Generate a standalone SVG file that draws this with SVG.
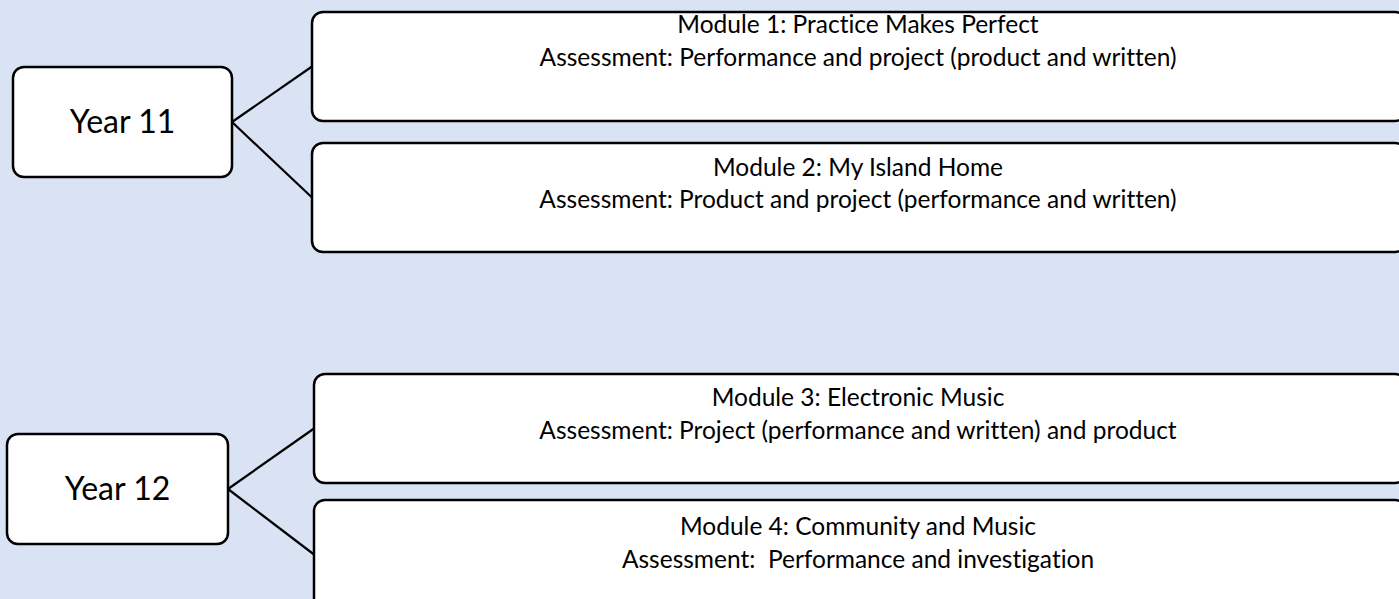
<svg xmlns="http://www.w3.org/2000/svg" width="1399" height="599" viewBox="0 0 1399 599">
<style>
.box{fill:#ffffff;stroke:#000000;stroke-width:2.5}
.conn{stroke:#000000;stroke-width:2.2;fill:none}
.t{font-family:Lato,"Liberation Sans",Arial,sans-serif;font-size:24.5px;fill:#000000;text-anchor:middle;font-variant-ligatures:none}
.y{font-family:Lato,"Liberation Sans",Arial,sans-serif;font-size:32px;fill:#000000;text-anchor:middle;font-variant-ligatures:none}
</style>
<rect x="0" y="0" width="1399" height="599" fill="#DAE3F3"/>
<g id="connectors">
<line class="conn" x1="232" y1="122" x2="312" y2="66.5"/>
<line class="conn" x1="232" y1="122" x2="312" y2="197.5"/>
<line class="conn" x1="228" y1="489" x2="314" y2="428.5"/>
<line class="conn" x1="228" y1="489" x2="314" y2="554.5"/>
</g>
<g id="year11">
<rect class="box" x="13" y="67" width="219" height="110" rx="11"/>
<text class="y" x="122.5" y="133">Year 11</text>
</g>
<g id="module1">
<rect class="box" x="312" y="12" width="1094" height="109" rx="11"/>
<text class="t" x="858" y="33">Module 1: Practice Makes Perfect</text>
<text class="t" x="858" y="66">Assessment: Performance and project (product and written)</text>
</g>
<g id="module2">
<rect class="box" x="312" y="143" width="1094" height="109" rx="11"/>
<text class="t" x="858" y="176">Module 2: My Island Home</text>
<text class="t" x="858" y="208">Assessment: Product and project (performance and written)</text>
</g>
<g id="year12">
<rect class="box" x="7" y="434" width="221" height="110" rx="11"/>
<text class="y" x="117.5" y="500">Year 12</text>
</g>
<g id="module3">
<rect class="box" x="314" y="374" width="1092" height="109" rx="11"/>
<text class="t" x="858" y="406">Module 3: Electronic Music</text>
<text class="t" x="858" y="439">Assessment: Project (performance and written) and product</text>
</g>
<g id="module4">
<rect class="box" x="314" y="500" width="1092" height="109" rx="11"/>
<text class="t" x="858" y="535">Module 4: Community and Music</text>
<text class="t" x="858" y="568" xml:space="preserve">Assessment:  Performance and investigation</text>
</g>
</svg>
